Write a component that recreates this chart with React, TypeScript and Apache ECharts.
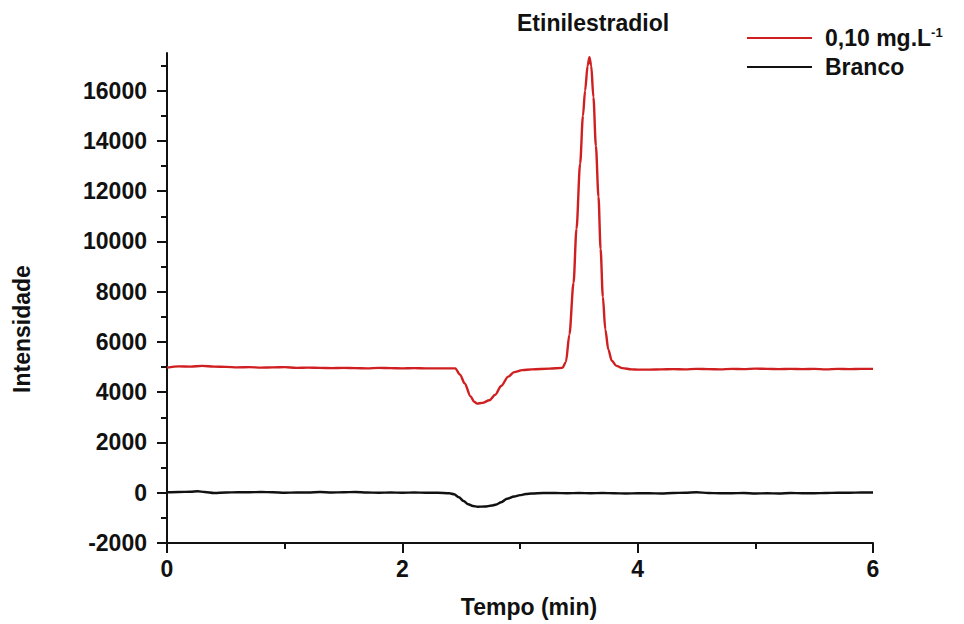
import React, { useEffect, useRef } from "react";
import * as echarts from "echarts";

// Cromatograma: padrão de etinilestradiol (0,10 mg.L-1) e branco
const tempoAmostra = [
  0.0, 0.1, 0.2, 0.3, 0.4, 0.5, 0.6, 0.7, 0.8, 0.9, 1.0, 1.1, 1.2, 1.3, 1.4, 1.5, 1.6, 1.7, 1.8, 1.9,
  2.0, 2.1, 2.2, 2.3, 2.4, 2.45, 2.49, 2.53, 2.58, 2.61, 2.635, 2.68, 2.74, 2.79, 2.84, 2.9, 2.95, 3.02, 3.1,
  3.25, 3.36, 3.39, 3.42, 3.455, 3.48, 3.511, 3.535, 3.553, 3.575, 3.59, 3.605, 3.624, 3.645, 3.667,
  3.685, 3.704, 3.725, 3.751, 3.78, 3.82, 3.87, 3.95, 4.0, 4.1, 4.2, 4.3, 4.4, 4.5, 4.6, 4.7, 4.8, 4.9,
  5.0, 5.1, 5.2, 5.3, 5.4, 5.5, 5.6, 5.7, 5.8, 5.9, 6.0,
];
const intensidadeAmostra = [
  4980, 5030, 5020, 5050, 5020, 5010, 4990, 5000, 4980, 4990, 5000, 4970, 4980, 4970, 4960, 4970, 4960, 4950, 4970, 4960,
  4950, 4960, 4950, 4950, 4950, 4950, 4700, 4350, 3835, 3620, 3545, 3575, 3680, 3900, 4250, 4620, 4800, 4880, 4910,
  4940, 4970, 5200, 6300, 8350, 10500, 13100, 15000, 16000, 17000, 17330, 17000, 15740, 13800, 11780,
  9700, 7800, 6500, 5690, 5250, 5050, 4960, 4910, 4900, 4900, 4910, 4920, 4910, 4930, 4920, 4910, 4930, 4920,
  4940, 4930, 4920, 4930, 4920, 4930, 4910, 4930, 4920, 4930, 4930,
];

const tempoBranco = [
  0.0, 0.1, 0.2, 0.26, 0.32, 0.4, 0.5, 0.6, 0.7, 0.8, 0.9, 1.0, 1.1, 1.2, 1.3, 1.4, 1.5, 1.6, 1.7, 1.8, 1.9,
  2.0, 2.1, 2.2, 2.3, 2.4, 2.44, 2.48, 2.52, 2.56, 2.6, 2.64, 2.7, 2.76, 2.8, 2.84, 2.89, 2.95, 3.0, 3.05,
  3.1, 3.2, 3.3, 3.4, 3.5, 3.6, 3.7, 3.8, 3.9, 4.0, 4.1, 4.2, 4.3, 4.4, 4.5, 4.6, 4.7, 4.8, 4.9,
  5.0, 5.1, 5.2, 5.3, 5.4, 5.5, 5.6, 5.7, 5.8, 5.9, 6.0,
];
const intensidadeBranco = [
  20, 30, 40, 60, 30, -10, 10, 20, 20, 30, 20, 0, 10, 10, 30, 10, 20, 30, 10, 0, 10,
  0, 10, 0, 0, -20, -60, -180, -330, -460, -530, -556, -550, -510, -465, -380, -240, -150, -95, -50,
  -30, -10, -10, -20, -10, -20, -10, -20, -30, -20, -20, -30, -10, 0, 20, -10, -20, -20, -10,
  -30, -20, -30, -10, -20, -20, -10, 0, 0, 10, 10,
];

const rotulosY = [-2000, 0, 2000, 4000, 6000, 8000, 10000, 12000, 14000, 16000];
const ticksMenoresY = [-1000, 1000, 3000, 5000, 7000, 9000, 11000, 13000, 15000, 17000];

const nomeAmostra = "0,10 mg.L-1";
const nomeBranco = "Branco";

const FONTE = "'Liberation Sans', Arial, Helvetica, sans-serif";
const PRETO = "#111111";
const VERMELHO = "#d01f20";
const TAM = 23;

function pares(x: number[], y: number[]) {
  return x.map((t, i) => [t, y[i]]);
}

export default function App() {
  const ref = useRef<HTMLDivElement>(null);

  useEffect(() => {
    if (!ref.current) return;
    const chart = echarts.init(ref.current, undefined, { renderer: "svg" });

    const rotulo = { fontFamily: FONTE, fontWeight: "bold" as const, fontSize: TAM, color: PRETO };

    chart.setOption({
      animation: false,
      backgroundColor: "#ffffff",
      title: {
        text: "Etinilestradiol",
        left: 517,
        top: 11,
        padding: 0,
        textStyle: { ...rotulo },
      },
      legend: {
        orient: "vertical",
        left: 747,
        top: 26,
        padding: 0,
        icon: "rect",
        itemWidth: 65,
        itemHeight: 2,
        itemGap: 5,
        data: [nomeAmostra, nomeBranco],
        formatter: (n: string) => (n === nomeAmostra ? "0,10 mg.L{sup|-1}" : n),
        textStyle: {
          ...rotulo,
          lineHeight: 24,
          padding: [0, 0, 0, 8],
          rich: {
            sup: {
              fontFamily: FONTE,
              fontWeight: "bold",
              fontSize: 13,
              color: PRETO,
              verticalAlign: "top",
              lineHeight: 24,
              padding: [0, 0, 10, 0],
            },
          },
        },
      },
      grid: { left: 167, right: 91, top: 53, bottom: 81, containLabel: false },
      xAxis: {
        type: "value",
        min: 0,
        max: 6,
        interval: 2,
        name: "Tempo (min)",
        nameLocation: "middle",
        nameGap: 52,
        nameTextStyle: { ...rotulo, padding: [0, 0, 0, 18] },
        axisLine: { show: true, onZero: false, lineStyle: { color: PRETO, width: 2 } },
        axisTick: { show: true, inside: false, length: 10, lineStyle: { color: PRETO, width: 2 } },
        minorTick: { show: true, splitNumber: 2, length: 6, lineStyle: { color: PRETO, width: 2 } },
        axisLabel: { ...rotulo, margin: 14, formatter: (v: number) => String(v) },
        splitLine: { show: false },
        minorSplitLine: { show: false },
      },
      yAxis: [
        {
          type: "value",
          min: -2000,
          max: 17500,
          interval: 2000,
          axisLine: { show: true, onZero: false, lineStyle: { color: PRETO, width: 2 } },
          axisTick: {
            show: true,
            inside: false,
            length: 10,
            customValues: rotulosY,
            lineStyle: { color: PRETO, width: 2 },
          },
          axisLabel: {
            ...rotulo,
            margin: 20,
            customValues: rotulosY,
            formatter: (v: number) => String(v),
          },
          splitLine: { show: false },
        },
        {
          type: "value",
          position: "left",
          min: -2000,
          max: 17500,
          interval: 1000,
          axisLine: { show: false },
          axisTick: {
            show: true,
            inside: false,
            length: 6,
            customValues: ticksMenoresY,
            lineStyle: { color: PRETO, width: 2 },
          },
          axisLabel: { show: false },
          splitLine: { show: false },
        },
      ],
      graphic: [
        {
          type: "text",
          x: 22,
          y: 329,
          rotation: Math.PI / 2,
          style: {
            text: "Intensidade",
            fontFamily: FONTE,
            fontWeight: "bold",
            fontSize: TAM,
            fill: PRETO,
            align: "center",
            verticalAlign: "middle",
          },
        },
      ],
      series: [
        {
          name: nomeAmostra,
          type: "line",
          yAxisIndex: 0,
          data: pares(tempoAmostra, intensidadeAmostra),
          symbol: "none",
          smooth: 0.3,
          smoothMonotone: "x",
          lineStyle: { color: VERMELHO, width: 2.4 },
          itemStyle: { color: VERMELHO },
          z: 3,
        },
        {
          name: nomeBranco,
          type: "line",
          yAxisIndex: 0,
          data: pares(tempoBranco, intensidadeBranco),
          symbol: "none",
          smooth: 0.3,
          smoothMonotone: "x",
          lineStyle: { color: PRETO, width: 2.4 },
          itemStyle: { color: PRETO },
          z: 3,
        },
      ],
    });

    return () => chart.dispose();
  }, []);

  return (
    <div
      ref={ref}
      style={{ position: "absolute", left: 0, top: 0, width: 964, height: 624, background: "#fff" }}
    />
  );
}
